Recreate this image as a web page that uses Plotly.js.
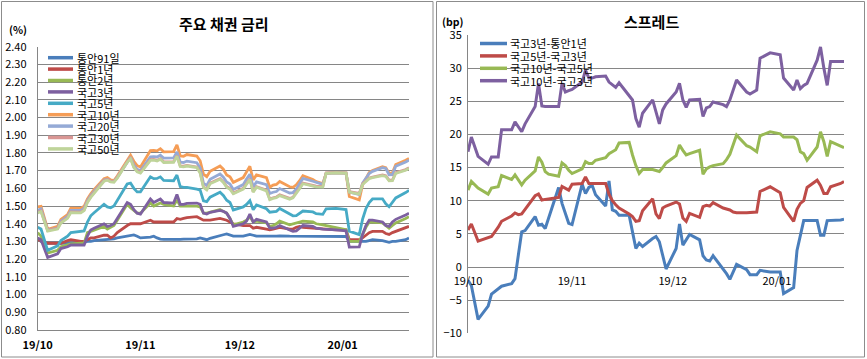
<!DOCTYPE html>
<html><head><meta charset="utf-8">
<script src="https://cdn.plot.ly/plotly-3.0.1.min.js"></script>
<style>html,body{margin:0;padding:0;background:#fff;}#chart{width:867px;height:359px;}</style>
</head><body><div id="chart"></div>
<script>
const dates = [
'2019-10-01','2019-10-02','2019-10-04','2019-10-07','2019-10-08','2019-10-10','2019-10-11','2019-10-14','2019-10-15','2019-10-16','2019-10-17','2019-10-18','2019-10-21','2019-10-22','2019-10-23','2019-10-24','2019-10-25','2019-10-28','2019-10-29','2019-10-30','2019-10-31',
'2019-11-01','2019-11-04','2019-11-05','2019-11-06','2019-11-07','2019-11-08','2019-11-11','2019-11-12','2019-11-13','2019-11-14','2019-11-15','2019-11-18','2019-11-19','2019-11-20','2019-11-21','2019-11-22','2019-11-25','2019-11-26','2019-11-27','2019-11-28','2019-11-29',
'2019-12-02','2019-12-03','2019-12-04','2019-12-05','2019-12-06','2019-12-09','2019-12-10','2019-12-11','2019-12-12','2019-12-13','2019-12-16','2019-12-17','2019-12-18','2019-12-19','2019-12-20','2019-12-23','2019-12-24','2019-12-26','2019-12-27','2019-12-30',
'2020-01-02','2020-01-03','2020-01-06','2020-01-07','2020-01-08','2020-01-09','2020-01-10','2020-01-13','2020-01-14','2020-01-15','2020-01-16','2020-01-17','2020-01-20','2020-01-21'];

const rateNames = ['통안91일','통안1년','통안2년','국고3년','국고5년','국고10년','국고20년','국고30년','국고50년'];
const rateColors = ['#4A7EBB','#BE4B48','#98B954','#7D60A0','#46AAC5','#F59D56','#95AAD6','#D99694','#BFD49A'];

const msb91 = [1.32,1.30,1.29,1.29,1.29,1.29,1.29,1.295,1.295,1.30,1.30,1.305,1.31,1.31,1.313,1.315,1.32,1.33,1.335,1.337,1.33,
1.32,1.325,1.33,1.32,1.313,1.312,1.31,1.31,1.312,1.313,1.313,1.315,1.32,1.315,1.31,1.318,1.33,1.338,1.343,1.338,1.33,
1.33,1.335,1.34,1.335,1.33,1.33,1.328,1.33,1.33,1.332,1.33,1.33,1.33,1.33,1.33,1.328,1.328,1.328,1.328,1.328,
1.328,1.30,1.30,1.30,1.30,1.305,1.31,1.305,1.30,1.295,1.30,1.30,1.31,1.32];
const msb1 = [1.31,1.305,1.29,1.287,1.29,1.305,1.31,1.30,1.30,1.31,1.32,1.32,1.335,1.335,1.32,1.33,1.35,1.39,1.40,1.40,1.40,
1.40,1.42,1.41,1.41,1.41,1.41,1.41,1.43,1.425,1.43,1.435,1.44,1.43,1.42,1.42,1.42,1.43,1.425,1.42,1.41,1.40,
1.39,1.39,1.39,1.375,1.38,1.37,1.366,1.37,1.375,1.38,1.37,1.37,1.38,1.385,1.38,1.375,1.375,1.37,1.37,1.366,
1.366,1.31,1.31,1.32,1.335,1.35,1.357,1.357,1.345,1.34,1.35,1.357,1.375,1.385];
const msb2 = [1.35,1.33,1.235,1.25,1.27,1.28,1.287,1.29,1.29,1.35,1.357,1.365,1.385,1.37,1.38,1.39,1.42,1.51,1.49,1.475,1.46,
1.46,1.517,1.50,1.51,1.517,1.51,1.50,1.535,1.50,1.50,1.50,1.50,1.495,1.46,1.46,1.465,1.48,1.47,1.46,1.43,1.394,
1.41,1.42,1.44,1.41,1.415,1.405,1.385,1.39,1.40,1.415,1.394,1.40,1.405,1.41,1.415,1.41,1.40,1.394,1.39,1.375,
1.366,1.30,1.30,1.34,1.38,1.41,1.41,1.405,1.39,1.375,1.39,1.405,1.43,1.44];
const ktb3 = [1.32,1.31,1.21,1.23,1.26,1.27,1.28,1.28,1.28,1.33,1.365,1.375,1.40,1.385,1.39,1.40,1.43,1.52,1.51,1.48,1.46,
1.455,1.54,1.52,1.53,1.54,1.52,1.517,1.565,1.51,1.51,1.515,1.517,1.51,1.46,1.455,1.465,1.475,1.47,1.46,1.43,1.385,
1.40,1.415,1.455,1.41,1.425,1.41,1.375,1.375,1.38,1.39,1.365,1.357,1.36,1.375,1.39,1.385,1.375,1.37,1.37,1.366,
1.36,1.268,1.27,1.34,1.39,1.42,1.42,1.41,1.39,1.385,1.41,1.425,1.45,1.46];
const ktb5 = [1.38,1.37,1.25,1.275,1.305,1.33,1.35,1.355,1.36,1.41,1.445,1.462,1.51,1.495,1.49,1.50,1.53,1.625,1.63,1.60,1.58,
1.58,1.665,1.655,1.656,1.665,1.645,1.643,1.675,1.61,1.605,1.605,1.595,1.59,1.53,1.525,1.55,1.578,1.56,1.533,1.52,1.478,
1.495,1.509,1.53,1.479,1.506,1.485,1.465,1.467,1.47,1.486,1.455,1.445,1.446,1.457,1.472,1.467,1.457,1.453,1.484,1.487,
1.48,1.358,1.339,1.426,1.485,1.52,1.54,1.541,1.513,1.496,1.521,1.546,1.576,1.589];
const ktb10 = [1.496,1.499,1.369,1.385,1.424,1.451,1.488,1.487,1.499,1.54,1.569,1.593,1.655,1.661,1.648,1.644,1.67,1.762,1.787,1.753,1.728,
1.721,1.813,1.814,1.812,1.824,1.806,1.807,1.846,1.783,1.781,1.791,1.782,1.756,1.68,1.666,1.696,1.726,1.708,1.676,1.665,1.634,
1.661,1.693,1.725,1.648,1.676,1.661,1.606,1.618,1.622,1.639,1.609,1.606,1.62,1.643,1.671,1.65,1.638,1.627,1.685,1.688,
1.686,1.554,1.535,1.62,1.656,1.689,1.701,1.722,1.717,1.685,1.688,1.735,1.759,1.769];
const ktb20 = [1.476,1.484,1.364,1.375,1.414,1.441,1.476,1.475,1.487,1.53,1.559,1.583,1.647,1.651,1.64,1.639,1.662,1.752,1.775,1.733,1.708,
1.701,1.778,1.779,1.777,1.787,1.771,1.772,1.806,1.748,1.746,1.754,1.745,1.716,1.63,1.616,1.651,1.681,1.663,1.636,1.625,1.594,
1.621,1.653,1.68,1.608,1.636,1.621,1.571,1.578,1.582,1.599,1.574,1.576,1.595,1.628,1.656,1.64,1.633,1.622,1.685,1.688,
1.686,1.579,1.565,1.63,1.656,1.684,1.696,1.717,1.712,1.677,1.678,1.725,1.749,1.759];
const ktb30 = [1.465,1.473,1.363,1.374,1.408,1.435,1.467,1.466,1.478,1.524,1.553,1.577,1.644,1.65,1.64,1.638,1.662,1.751,1.771,1.722,1.697,
1.69,1.762,1.763,1.758,1.768,1.75,1.751,1.785,1.727,1.725,1.73,1.721,1.69,1.609,1.595,1.63,1.655,1.637,1.61,1.599,1.573,
1.6,1.627,1.654,1.582,1.61,1.59,1.54,1.547,1.551,1.563,1.543,1.55,1.574,1.602,1.63,1.619,1.612,1.611,1.687,1.69,
1.688,1.582,1.571,1.626,1.644,1.659,1.664,1.676,1.671,1.646,1.647,1.689,1.706,1.716];
const ktb50 = [1.461,1.469,1.359,1.37,1.404,1.431,1.463,1.462,1.474,1.52,1.549,1.573,1.64,1.646,1.636,1.634,1.658,1.747,1.767,1.718,1.693,
1.686,1.758,1.759,1.754,1.764,1.746,1.747,1.781,1.723,1.721,1.726,1.717,1.686,1.605,1.591,1.626,1.651,1.633,1.606,1.595,1.569,
1.596,1.623,1.65,1.578,1.606,1.586,1.536,1.543,1.547,1.559,1.539,1.546,1.57,1.598,1.626,1.615,1.608,1.607,1.685,1.688,
1.686,1.579,1.568,1.622,1.64,1.655,1.66,1.672,1.667,1.642,1.643,1.685,1.702,1.712];

const spreadNames = ['국고3년-통안1년','국고5년-국고3년','국고10년-국고5년','국고10년-국고3년'];
const spreadColors = ['#4A7EBB','#BE4B48','#98B954','#7D60A0'];
const sp3y1y = [-2.0,-2.8,-7.9,-5.9,-4.1,-3.2,-2.9,-2.5,-1.75,1.8,5.3,5.5,7.6,6.3,6.45,5.8,7.4,12.0,9.6,8.0,6.6,
6.4,12.5,11.1,12.0,12.3,10.9,9.2,13.0,8.6,8.4,7.8,7.8,5.3,2.8,3.6,3.1,4.3,4.6,3.8,1.7,-0.3,
2.8,6.5,3.3,4.1,4.9,4.1,1.7,1.05,0.9,1.7,-0.2,-1.0,-1.85,-0.7,0.4,-0.4,-1.15,-1.15,-0.5,-0.75,
-0.75,-4.0,-3.1,2.5,5.0,7.0,7.0,7.0,4.8,4.8,7.0,7.0,7.1,7.2];
const sp5y3y = [5.6,6.5,3.9,4.5,4.6,6.0,6.9,7.7,8.15,7.9,8.0,8.7,10.75,11.0,10.1,10.2,10.25,10.5,12.15,11.9,11.6,
12.5,12.6,13.6,12.6,12.6,12.6,12.6,11.0,10.0,9.4,8.9,8.0,7.6,6.9,7.0,8.5,10.3,8.0,7.3,8.9,9.2,
9.8,9.5,7.4,6.9,8.1,7.5,9.1,9.3,9.2,9.7,8.9,8.75,8.6,8.3,8.2,8.2,8.2,8.3,11.4,12.1,
11.2,9.0,6.9,8.7,9.6,10.0,12.0,13.1,12.3,11.1,11.1,12.1,12.6,12.9];
const sp10y5y = [11.6,12.9,11.9,11.0,11.9,12.1,13.8,13.2,13.9,13.1,12.4,13.1,14.5,16.6,15.8,14.4,14.0,13.7,15.7,15.3,14.6,
14.1,14.8,15.9,15.6,15.6,16.1,16.5,17.1,17.4,17.7,18.7,18.8,16.9,15.3,14.1,14.7,14.7,14.5,14.4,15.0,15.7,
16.8,18.4,17.6,16.9,17.1,17.6,14.0,14.8,15.1,15.3,15.6,16.2,17.0,18.5,19.9,18.3,18.1,17.4,19.8,20.4,
20.1,19.6,19.6,19.2,17.4,17.1,16.1,18.1,20.4,18.9,16.7,18.9,18.3,18.0];
const sp10y3y = [17.4,19.6,16.7,15.5,16.6,16.6,20.7,20.7,21.9,21.1,20.4,21.6,24.2,27.7,24.3,24.2,24.2,24.2,27.7,26.4,26.6,
26.8,27.9,29.7,28.5,28.5,28.7,28.8,27.9,27.5,27.1,27.8,25.9,25.2,22.4,21.1,23.2,25.2,23.4,21.6,23.7,24.6,
26.4,27.7,25.2,24.1,25.2,25.3,22.7,24.0,24.2,24.9,24.5,24.2,25.2,26.7,28.2,26.4,26.1,26.7,31.5,32.3,
32.0,28.5,26.7,28.2,26.9,27.4,27.7,31.2,33.2,30.0,27.4,31.0,31.0,31.0];

const tickDates = ['2019-10-01','2019-11-01','2019-12-01','2020-01-01'];
const tickLabels = ['19/10','19/11','19/12','20/01'];
const dateRange = ['2019-10-01','2020-01-21'];

const rateSeries = [msb91,msb1,msb2,ktb3,ktb5,ktb10,ktb20,ktb30,ktb50];
const spreadSeries = [sp3y1y,sp5y3y,sp10y5y,sp10y3y];

const W = 867, H = 359;
const px = x => x / W, py = y => 1 - y / H;
const FONT = 'Noto Sans CJK KR, Noto Sans, sans-serif';
const GRID = '#868686';

const traces = [];
rateSeries.forEach((s, i) => traces.push({
  x: dates, y: s, type: 'scatter', mode: 'lines', name: rateNames[i],
  line: {color: rateColors[i], width: 2.8}, xaxis: 'x', yaxis: 'y', showlegend: false
}));
spreadSeries.forEach((s, i) => traces.push({
  x: dates, y: s, type: 'scatter', mode: 'lines', name: spreadNames[i],
  line: {color: spreadColors[i], width: 3}, xaxis: 'x2', yaxis: 'y2', showlegend: false
}));

const y2Range = [-10, 35];
const y2Dom = [py(333.3), py(35)];
const zeroPos = y2Dom[0] + (0 - y2Range[0]) / (y2Range[1] - y2Range[0]) * (y2Dom[1] - y2Dom[0]);

const shapes = [
  {type:'rect', xref:'paper', yref:'paper', x0:px(1.5), x1:px(433), y0:py(357), y1:py(1.5), line:{color:'#8c8c8c', width:1}},
  {type:'rect', xref:'paper', yref:'paper', x0:px(436.5), x1:px(864.5), y0:py(357), y1:py(1.5), line:{color:'#8c8c8c', width:1}}
];
const txt = (text, x, y, size, xanchor) => ({text, xref:'paper', yref:'paper', x:px(x), y:py(y),
  xanchor: xanchor || 'center', yanchor:'middle', showarrow:false, font:{family:FONT, size, color:'#000'}});
const annotations = [
  txt('<b>주요 채권 금리</b>', 224, 23.5, 15),
  txt('<b>스프레드</b>', 651, 22, 15),
  txt('<b>(%)</b>', 18, 30, 10.5),
  txt('<b>(bp)</b>', 452.5, 22, 10.5)
];
rateNames.forEach((n, i) => {
  const yy = 57.7 + 11.4 * i;
  shapes.push({type:'line', xref:'paper', yref:'paper', x0:px(48), x1:px(73), y0:py(yy), y1:py(yy), line:{color:rateColors[i], width:3.5}});
  annotations.push(txt(n, 75, yy, 11, 'left'));
});
spreadNames.forEach((n, i) => {
  const yy = 43.5 + 12.4 * i;
  shapes.push({type:'line', xref:'paper', yref:'paper', x0:px(480), x1:px(507), y0:py(yy), y1:py(yy), line:{color:spreadColors[i], width:3.5}});
  annotations.push(txt(n, 508, yy, 11, 'left'));
});

const layout = {
  width: W, height: H, margin: {l:0, r:0, t:0, b:0},
  paper_bgcolor: '#fff', plot_bgcolor: '#fff', showlegend: false,
  font: {family: FONT, size: 11, color: '#000'},
  xaxis: {domain:[px(37.7), px(409)], anchor:'y', type:'date', range:dateRange,
    tickmode:'array', tickvals:tickDates, ticktext:tickLabels.map(t => '<b>' + t + '</b>'),
    showgrid:false, zeroline:false, showline:true, linecolor:GRID, linewidth:1,
    ticks:'outside', ticklen:5, tickcolor:'rgba(0,0,0,0)', tickfont:{family:FONT, size:11, color:'#000'}},
  yaxis: {domain:[py(330), py(46.7)], anchor:'x', range:[0.8, 2.4], tick0:0.8, dtick:0.1, tickformat:'.2f',
    showgrid:true, gridcolor:GRID, gridwidth:1, zeroline:false, showline:true, linecolor:GRID, linewidth:1,
    ticks:'outside', ticklen:8, tickcolor:'rgba(0,0,0,0)', tickfont:{family:FONT, size:11, color:'#000'}},
  xaxis2: {domain:[px(468), px(844)], anchor:'free', position:zeroPos, type:'date', range:dateRange,
    tickmode:'array', tickvals:tickDates, ticktext:tickLabels,
    showgrid:false, zeroline:false, showline:false,
    ticks:'outside', ticklen:4, tickcolor:'rgba(0,0,0,0)', tickfont:{family:FONT, size:11, color:'#000'}},
  yaxis2: {domain:y2Dom, anchor:'x2', range:y2Range, tick0:-10, dtick:5,
    showgrid:true, gridcolor:GRID, gridwidth:1, zeroline:false, showline:true, linecolor:GRID, linewidth:1,
    ticks:'outside', ticklen:3, tickcolor:'rgba(0,0,0,0)', tickfont:{family:FONT, size:11, color:'#000'}},
  shapes: shapes, annotations: annotations
};

Plotly.newPlot('chart', traces, layout, {staticPlot:true, displayModeBar:false});
</script></body></html>
